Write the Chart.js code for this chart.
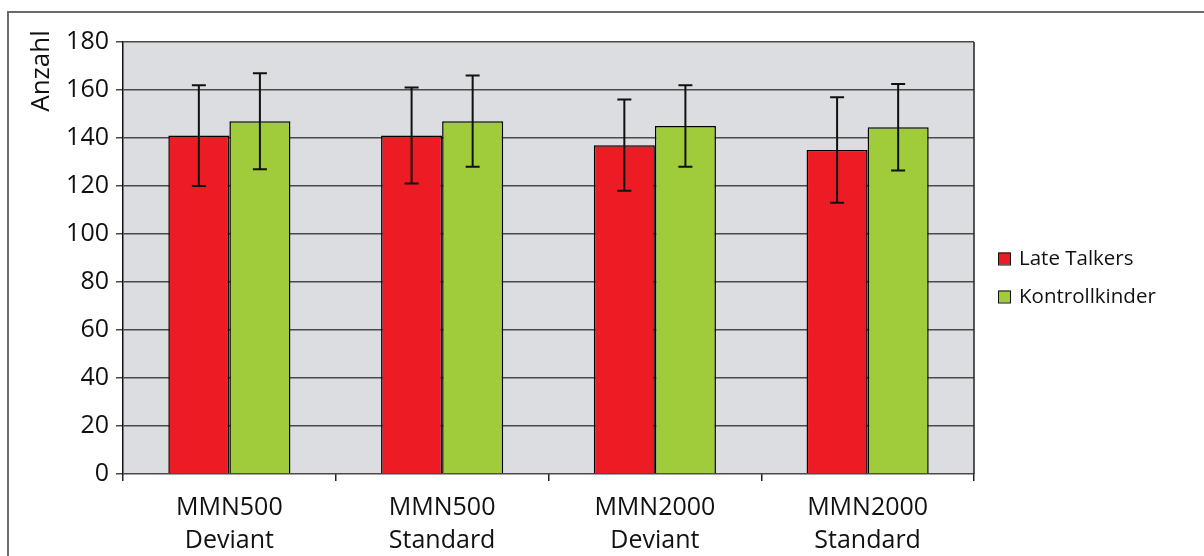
<!DOCTYPE html>
<html>
<head>
<meta charset="utf-8">
<script src="https://cdn.jsdelivr.net/npm/chart.js@4/dist/chart.umd.min.js"></script>
<style>
  html, body { margin: 0; padding: 0; background: #fff; overflow: hidden; }
  #frame {
    position: absolute; left: 7px; top: 11px; width: 1300px; height: 700px;
    border-left: 2px solid #6b6b6b; border-top: 2px solid #6b6b6b;
  }
  #wrap { position: absolute; left: 0; top: 0; width: 1204px; height: 556px; }
</style>
</head>
<body>
<div id="frame"></div>
<div id="wrap"><canvas id="chart" width="1204" height="556"></canvas></div>
<script>
const categories = [["MMN500", "Deviant"], ["MMN500", "Standard"], ["MMN2000", "Deviant"], ["MMN2000", "Standard"]];
const seriesNames = ["Late Talkers", "Kontrollkinder"];
const lateTalkers = [141, 141, 137, 135];
const lateTalkersErr = [21, 20, 19, 22];
const kontrollkinder = [147, 147, 145, 144.5];
const kontrollkinderErr = [20, 19, 17, 18];
const yTicks = [0, 20, 40, 60, 80, 100, 120, 140, 160, 180];

const FONT = "'Open Sans', 'DejaVu Sans', sans-serif";
const colorRed = "#ed1c24";
const colorGreen = "#a0cb3b";

// plot background, right border, error bars, axis title and legend
const extras = {
  id: "extras",
  beforeDraw(chart) {
    const { ctx, chartArea: a } = chart;
    ctx.save();
    ctx.fillStyle = "#dcdde0";
    ctx.fillRect(a.left, a.top, a.right - a.left, a.bottom - a.top);
    ctx.restore();
  },
  afterDatasetsDraw(chart) {
    const { ctx } = chart;
    const yScale = chart.scales.y;
    const errs = [lateTalkersErr, kontrollkinderErr];
    ctx.save();
    ctx.strokeStyle = "#111";
    ctx.lineWidth = 2;
    chart.data.datasets.forEach((ds, i) => {
      const meta = chart.getDatasetMeta(i);
      meta.data.forEach((bar, j) => {
        const v = ds.data[j];
        const top = yScale.getPixelForValue(v + errs[i][j]);
        const bot = yScale.getPixelForValue(v - errs[i][j]);
        ctx.beginPath();
        ctx.moveTo(bar.x, top);
        ctx.lineTo(bar.x, bot);
        ctx.moveTo(bar.x - 7, top);
        ctx.lineTo(bar.x + 7, top);
        ctx.moveTo(bar.x - 7, bot);
        ctx.lineTo(bar.x + 7, bot);
        ctx.stroke();
      });
    });
    ctx.restore();
  },
  afterDraw(chart) {
    const { ctx, chartArea: a } = chart;
    ctx.save();
    ctx.strokeStyle = "#222";
    ctx.lineWidth = 1.5;
    ctx.beginPath();
    ctx.moveTo(a.right, a.top);
    ctx.lineTo(a.right, a.bottom);
    ctx.stroke();

    // y axis title
    ctx.translate(49, 71);
    ctx.rotate(-Math.PI / 2);
    ctx.fillStyle = "#111";
    ctx.font = "26px " + FONT;
    ctx.textAlign = "center";
    ctx.textBaseline = "alphabetic";
    ctx.fillText("Anzahl", 0, 0);
    ctx.restore();

    // legend
    ctx.save();
    ctx.font = "20.5px " + FONT;
    ctx.textBaseline = "middle";
    chart.data.datasets.forEach((ds, i) => {
      const cy = 258.5 + i * 38;
      ctx.fillStyle = ds.backgroundColor;
      ctx.fillRect(998, cy - 6, 12, 12);
      ctx.strokeStyle = "#111";
      ctx.lineWidth = 1;
      ctx.strokeRect(998.5, cy - 5.5, 12, 12);
      ctx.fillStyle = "#111";
      ctx.fillText(ds.label, 1019, cy + 1);
    });
    ctx.restore();
  },
};

new Chart(document.getElementById("chart"), {
  type: "bar",
  data: {
    labels: categories,
    datasets: [
      { label: seriesNames[0], data: lateTalkers, backgroundColor: colorRed, borderColor: "#000", borderWidth: 1.5 },
      { label: seriesNames[1], data: kontrollkinder, backgroundColor: colorGreen, borderColor: "#000", borderWidth: 1.5 },
    ],
  },
  options: {
    responsive: false,
    animation: false,
    layout: { padding: { left: 0, right: 230, top: 42, bottom: 0 } },
    datasets: { bar: { categoryPercentage: 0.574, barPercentage: 1 } },
    scales: {
      x: {
        grid: { drawOnChartArea: false, drawTicks: true, tickLength: 7, color: "#222", lineWidth: 1.5, offset: true },
        border: { display: false },
        ticks: { color: "#111", font: { family: FONT, size: 25, lineHeight: 1.3 }, padding: 11, maxRotation: 0 },
        afterFit(scale) { scale.height = 82; },
      },
      y: {
        min: 0,
        max: 180,
        afterBuildTicks(scale) { scale.ticks = yTicks.map((v) => ({ value: v })); },
        grid: { color: "#4a4a4a", lineWidth: 1.5, tickLength: 7, drawTicks: true },
        border: { color: "#111", width: 1.5 },
        ticks: { color: "#111", font: { family: FONT, size: 25 }, padding: 7 },
        afterFit(scale) { scale.width = 123; },
      },
    },
    plugins: { legend: { display: false }, tooltip: { enabled: false } },
  },
  plugins: [extras],
});
</script>
</body>
</html>
